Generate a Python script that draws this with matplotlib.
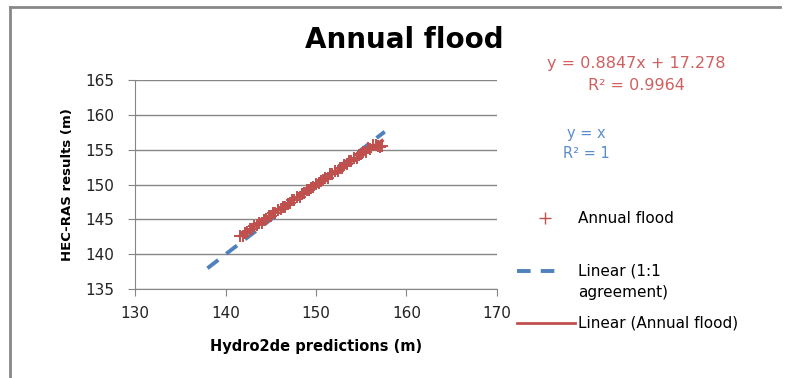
import numpy as np
import matplotlib
matplotlib.use("Agg")
import matplotlib.pyplot as plt
from matplotlib.lines import Line2D

# data
hydro_x = [141.6, 141.9, 142.1, 142.4, 142.7, 142.9, 143.2, 143.5, 143.7, 144.0,
           144.2, 144.5, 144.8, 145.0, 145.3, 145.5, 145.8, 146.1, 146.3, 146.6,
           146.9, 147.1, 147.4, 147.6, 147.9, 148.2, 148.4, 148.7, 149.0, 149.2,
           149.5, 149.7, 150.0, 150.3, 150.5, 150.8, 151.0, 151.3, 151.6, 151.8,
           152.1, 152.4, 152.6, 152.9, 153.1, 153.4, 153.7, 153.9, 154.2, 154.5,
           154.7, 155.0, 155.2, 155.5, 155.8, 156.0, 156.3, 156.6, 156.8, 157.1, 157.3]
hecras_y = [142.65, 142.67, 143.04, 143.16, 143.64, 143.65, 144.12, 144.15, 144.47, 144.56,
            144.99, 145.08, 145.48, 145.43, 145.89, 145.91, 146.39, 146.47, 146.79, 146.84,
            147.29, 147.35, 147.79, 147.76, 148.19, 148.27, 148.66, 148.78, 149.23, 149.20,
            149.58, 149.61, 150.06, 150.19, 150.55, 150.60, 150.92, 151.00, 151.50, 151.53,
            151.95, 152.00, 152.35, 152.43, 152.81, 152.94, 153.38, 153.35, 153.76, 153.82,
            154.24, 154.34, 154.70, 154.75, 155.19, 155.17, 155.71, 155.74, 155.60, 155.45, 155.50]
one_to_one = [138.0, 157.6]
x_ticks = [130, 140, 150, 160, 170]
y_ticks = [135, 140, 145, 150, 155, 160, 165]

RED = "#c0504d"
BLUE = "#4f81bd"
GRID = "#868686"

fig = plt.figure(figsize=(7.9, 3.78), dpi=100)
ax = fig.add_axes([0.171, 0.235, 0.458, 0.553])

# 1:1 line
ax.plot(one_to_one, one_to_one, color=BLUE, lw=2.8, dashes=(3.5, 2.6), zorder=2)

# scatter
ax.scatter(hydro_x, hecras_y, marker="+", s=75, color=RED, linewidths=1.4, zorder=3)

# trendline
k, b = np.polyfit(hydro_x, hecras_y, 1)
xs = np.array([min(hydro_x), max(hydro_x)])
ax.plot(xs, k * xs + b, color=RED, lw=2.5, zorder=4)

ax.set_xlim(130, 170)
ax.set_ylim(135, 165)
ax.set_xticks(x_ticks)
ax.set_yticks(y_ticks)
ax.yaxis.grid(True, color=GRID, lw=1)
ax.set_axisbelow(True)
for s in ["top", "right"]:
    ax.spines[s].set_visible(False)
for s in ["left", "bottom"]:
    ax.spines[s].set_color(GRID)
ax.tick_params(direction="out", length=5, color=GRID, labelsize=11, labelcolor="#222222")
ax.tick_params(axis="x", pad=7)
ax.tick_params(axis="y", pad=10)
ax.set_xlabel("Hydro2de predictions (m)", fontsize=10.5, fontweight="bold", labelpad=13)
ax.set_ylabel("HEC-RAS results (m)", fontsize=9.5, fontweight="bold", labelpad=8)

fig.text(0.512, 0.895, "Annual flood", fontsize=20, fontweight="bold", ha="center", va="center")

# trendline labels
fig.text(0.805, 0.833, "y = 0.8847x + 17.278", color="#d06060", fontsize=11.5, ha="center", va="center")
fig.text(0.805, 0.775, "R² = 0.9964", color="#d06060", fontsize=11.5, ha="center", va="center")
fig.text(0.742, 0.648, "y = x", color="#5b8ccc", fontsize=10.5, ha="center", va="center")
fig.text(0.742, 0.595, "R² = 1", color="#5b8ccc", fontsize=10.5, ha="center", va="center")

# legend
fig.add_artist(Line2D([0.690], [0.423], marker="+", ms=8, color=RED, mew=1, transform=fig.transFigure))
fig.text(0.732, 0.423, "Annual flood", fontsize=11, va="center")
fig.add_artist(Line2D([0.654, 0.712], [0.283, 0.283], color=BLUE, lw=2.8, dashes=(3.5, 2.6),
                      transform=fig.transFigure))
fig.text(0.732, 0.283, "Linear (1:1", fontsize=11, va="center")
fig.text(0.732, 0.226, "agreement)", fontsize=11, va="center")
fig.add_artist(Line2D([0.654, 0.728], [0.146, 0.146], color=RED, lw=2, transform=fig.transFigure))
fig.text(0.732, 0.146, "Linear (Annual flood)", fontsize=11, va="center")

# partial frame
fig.add_artist(Line2D([0.013, 0.987], [0.981, 0.981], color="#888888", lw=2, transform=fig.transFigure))
fig.add_artist(Line2D([0.013, 0.013], [0.0, 0.981], color="#888888", lw=2, transform=fig.transFigure))

fig.savefig("out.png", dpi=100)
